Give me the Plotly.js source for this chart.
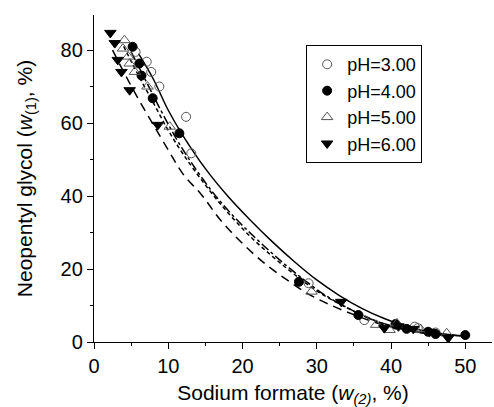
<!DOCTYPE html>
<html>
<head>
<meta charset="utf-8">
<script src="https://cdn.plot.ly/plotly-3.0.1.min.js"></script>
<style>html,body{margin:0;padding:0;background:#fff;}#chart{width:494px;height:407px;}</style>
</head>
<body>
<div id="chart"></div>
<script>
// Experimental points (w2 = sodium formate %, w1 = neopentyl glycol %)
const ph3X = [5.6, 7.1, 7.7, 8.8, 12.4, 13.1, 28.9, 36.4, 40.7, 43.2, 43.6, 46.0];
const ph3Y = [79.5, 76.8, 74.0, 70.0, 61.7, 51.7, 16.1, 6.0, 4.7, 4.2, 3.8, 2.6];
const ph4X = [5.2, 6.1, 6.4, 7.9, 11.5, 27.6, 35.6, 40.6, 42.1, 45.0, 46.0, 50.0];
const ph4Y = [80.9, 76.3, 73.0, 66.8, 57.2, 16.5, 7.4, 4.9, 3.6, 2.8, 2.2, 1.9];
const ph5X = [4.1, 3.9, 4.6, 4.8, 5.5, 7.2, 10.2, 29.3, 38.0, 39.8, 40.8, 44.0, 47.5];
const ph5Y = [82.7, 80.4, 78.2, 76.3, 74.0, 70.0, 59.0, 13.8, 4.7, 3.3, 5.1, 3.5, 2.4];
const ph6X = [2.2, 2.8, 3.2, 3.7, 4.8, 8.6, 33.3, 39.1, 41.0, 43.0, 45.2, 47.7];
const ph6Y = [84.7, 81.9, 77.3, 74.0, 69.0, 59.5, 11.0, 3.8, 4.3, 3.6, 2.8, 1.1];

// Fitted binodal curves
const fit3X = [6, 8, 10, 12, 15, 18, 21, 24, 27, 30, 33, 36, 39, 42, 45, 48, 50];
const fit3Y = [79, 72, 63.5, 56.5, 47.5, 40, 33.5, 27.5, 22, 17, 12.8, 9.3, 6.5, 4.3, 2.8, 2.0, 1.6];
const fit4X = [5, 7, 9, 11, 13, 16, 19, 22, 25, 28, 31, 34, 37, 40, 43, 46, 50];
const fit4Y = [79.5, 71.5, 63.5, 56, 49.5, 41, 34, 28, 22.5, 17.5, 13, 9.5, 6.5, 4.5, 3.0, 2.2, 1.6];
const fit5X = [4, 6, 8, 10, 12, 15, 18, 21, 24, 27, 30, 33, 36, 39, 42, 45, 48];
const fit5Y = [81, 73, 65.5, 58, 51.5, 43, 35.5, 29, 23.5, 18.5, 14, 10.5, 7.5, 5.0, 3.3, 2.3, 1.7];
const fit6X = [2.5, 4, 6, 8, 10, 12, 14.5, 17, 20, 23, 26, 29, 32, 35, 38, 41, 44, 47];
const fit6Y = [80, 74, 66.5, 59.5, 52.6, 46, 40.3, 33.5, 27, 21.5, 17, 13, 10, 7.5, 5.3, 3.7, 2.6, 1.8];

const legendNames = ['pH=3.00', 'pH=4.00', 'pH=5.00', 'pH=6.00'];
const xTickVals = [0, 10, 20, 30, 40, 50];
const yTickVals = [0, 20, 40, 60, 80];

const FONT = 'Arial, "Liberation Sans", sans-serif';

function fit(x, y, dash) {
  return {x: x, y: y, type: 'scatter', mode: 'lines', showlegend: false,
    line: {color: '#000', width: 1.5, dash: dash, shape: 'spline', smoothing: 1}, hoverinfo: 'skip'};
}
function pts(x, y, name, symbol, size, filled) {
  return {x: x, y: y, type: 'scatter', mode: 'markers', name: name,
    marker: {symbol: symbol, size: size, color: filled ? '#000' : '#555',
      line: {color: filled ? '#000' : '#555', width: 1}}};
}

const data = [
  fit(fit3X, fit3Y, 'solid'),
  fit(fit4X, fit4Y, 'dashdot'),
  fit(fit5X, fit5Y, '4px,3px'),
  fit(fit6X, fit6Y, '9px,6px'),
  pts(ph3X, ph3Y, legendNames[0], 'circle-open', 9, false),
  pts(ph4X, ph4Y, legendNames[1], 'circle', 9, true),
  pts(ph5X, ph5Y, legendNames[2], 'triangle-up-open', 10, false),
  pts(ph6X, ph6Y, legendNames[3], 'triangle-down', 10, true)
];

const layout = {
  width: 494, height: 407,
  margin: {l: 94, r: 2, t: 15, b: 65},
  paper_bgcolor: '#fff', plot_bgcolor: '#fff',
  font: {family: FONT, color: '#000'},
  showlegend: true,
  legend: {x: 0.533, y: 0.908, xanchor: 'left', yanchor: 'top',
    bordercolor: '#000', borderwidth: 1, bgcolor: '#fff',
    font: {family: FONT, size: 18, color: '#000'}, itemwidth: 30, tracegroupgap: 0},
  xaxis: {
    range: [0, 53.6], tickvals: xTickVals, ticks: 'outside', ticklen: 6, tickwidth: 1,
    tickcolor: '#000', showline: true, linecolor: '#000', linewidth: 1.2,
    showgrid: false, zeroline: false, mirror: false,
    tickfont: {family: FONT, size: 20, color: '#000'},
    minor: {dtick: 5, tick0: 0, ticks: 'outside', ticklen: 3, tickcolor: '#000', showgrid: false},
    title: {text: 'Sodium formate (<i>w</i><sub><i>(2)</i></sub>, %)', font: {family: FONT, size: 21, color: '#000'}, standoff: 16}
  },
  yaxis: {
    range: [0, 89.6], tickvals: yTickVals, ticks: 'outside', ticklen: 6, tickwidth: 1,
    tickcolor: '#000', showline: true, linecolor: '#000', linewidth: 1.2,
    showgrid: false, zeroline: false, mirror: false,
    tickfont: {family: FONT, size: 20, color: '#000'},
    minor: {dtick: 10, tick0: 0, ticks: 'outside', ticklen: 3, tickcolor: '#000', showgrid: false},
    title: {text: 'Neopentyl glycol (<i>w</i><sub>(1)</sub>, %)', font: {family: FONT, size: 21, color: '#000'}, standoff: 22}
  }
};

Plotly.newPlot('chart', data, layout, {displayModeBar: false, staticPlot: true});
</script>
</body>
</html>
